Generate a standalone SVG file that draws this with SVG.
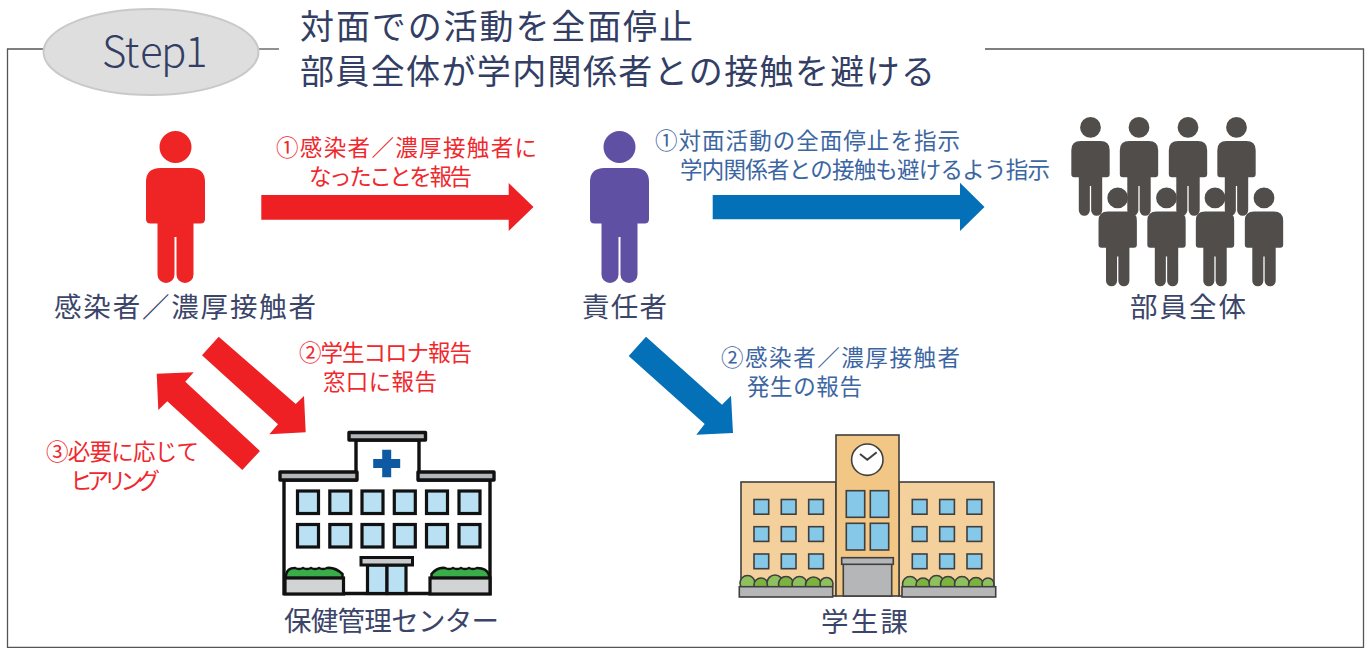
<svg xmlns="http://www.w3.org/2000/svg" width="1371" height="648" viewBox="0 0 1371 648">
<style>
text{font-family:"Noto Sans CJK JP","Noto Sans",sans-serif;}
.title{font-size:34px;fill:#333e64;}
.lab{font-size:27.5px;fill:#3b4569;}
.r{font-size:22.5px;fill:#f0282d;}
.b{font-size:22.5px;fill:#3c66a2;}
.hw{fill:#fff;stroke:#111;stroke-width:3.4;}
.hwin{fill:#b9e1f3;stroke:#111;stroke-width:3.2;}
.hgr{fill:#b3b6b8;stroke:#111;stroke-width:3.4;stroke-linejoin:round;}
.hpl{fill:#d1d3d4;stroke:#111;stroke-width:3.2;}
.sw{stroke:#3f3f3f;stroke-width:1.6;}
.swin{fill:#85c8e8;stroke:#3f3f3f;stroke-width:1.6;}
.sgr{fill:#b5b6b8;stroke:#3f3f3f;stroke-width:1.6;}
</style>
<defs>
<path id="person" d="M-15,37H15Q29.5,37 29.5,51V88Q29.5,92.5 25,92.5H18V143.5A8.5,8.5 0 0 1 1,143.5V106H-1V143.5A8.5,8.5 0 0 1 -18,143.5V92.5H-25Q-29.5,92.5 -29.5,88V51Q-29.5,37 -15,37ZM16,16A16,16 0 1 1 -16,16A16,16 0 1 1 16,16Z"/>
<rect id="hw" class="hwin" width="21" height="22.5"/>
<rect id="sw" class="swin" width="14.7" height="14.7"/>
</defs>
<rect width="1371" height="648" fill="#fff"/>
<g id="frame" fill="none" stroke="#555" stroke-width="1.3">
<path d="M44,49H7.5V647.5H1363.5V49H985"/>
<path d="M259,49H279"/>
</g>
<g id="step1">
<ellipse cx="151" cy="52" rx="107.5" ry="43" fill="#dedede" stroke="#c9c9c9" stroke-width="2"/>
<text x="102 124.5 140 161 185" y="67" font-size="42" font-weight="300" fill="#333e64">Step1</text>
</g>
<g id="title">
<text class="title" x="300" y="39" textLength="393">対面での活動を全面停止</text>
<text class="title" x="300" y="84" textLength="635">部員全体が学内関係者との接触を避ける</text>
</g>
<g id="connectors">
<polygon fill="#ee2024" points="261.3,195 508.7,195 508.7,183 533.5,207 508.7,231 508.7,219.7 261.3,219.7"/>
<polygon fill="#0470b8" points="712.7,195 960,195 960,182.7 984.5,207 960,231 960,219.3 712.7,219.3"/>
<polygon fill="#ee2024" points="218.7,336.7 295.7,404 304,396 305.7,432.3 269.3,434.3 278,424.3 202,355.3"/>
<polygon fill="#ee2024" points="156.7,373.7 193.7,372.3 185.3,381.7 260,451 242.3,470 167.3,401.3 158.3,410"/>
<polygon fill="#0470b8" points="646,336.7 722,404.7 731,395.7 733,433 696.3,434.7 704.7,424 628.7,356"/>
<g class="conn-labels">
<text class="r" x="276" y="155.5" textLength="261">①感染者／濃厚接触者に</text>
<text class="r" x="309" y="184.5" textLength="163">なったことを報告</text>
<text class="b" x="655" y="149" textLength="305">①対面活動の全面停止を指示</text>
<text class="b" x="680" y="178" textLength="370">学内関係者との接触も避けるよう指示</text>
<text class="r" x="299" y="361" textLength="173">②学生コロナ報告</text>
<text class="r" x="323" y="390" textLength="114">窓口に報告</text>
<text class="r" x="46" y="460" textLength="153">③必要に応じて</text>
<text class="r" x="70" y="489" textLength="90">ヒアリング</text>
<text class="b" x="721" y="366" textLength="239">②感染者／濃厚接触者</text>
<text class="b" x="747" y="395" textLength="115">発生の報告</text>
</g>
</g>
<g id="infected">
<use href="#person" x="175.5" y="131" fill="#ef2525"/>
<text class="lab" x="54" y="317" textLength="262">感染者／濃厚接触者</text>
</g>
<g id="manager">
<use href="#person" x="619.5" y="131" fill="#6050a3"/>
<text class="lab" x="582" y="317" textLength="85">責任者</text>
</g>
<g id="members" fill="#504d4a">
<use href="#person" transform="translate(1090.5,117) scale(.65)"/>
<use href="#person" transform="translate(1139,117) scale(.65)"/>
<use href="#person" transform="translate(1188,117) scale(.65)"/>
<use href="#person" transform="translate(1236.5,117) scale(.65)"/>
<use href="#person" transform="translate(1117.7,187.5) scale(.65)"/>
<use href="#person" transform="translate(1166.5,187.5) scale(.65)"/>
<use href="#person" transform="translate(1215,187.5) scale(.65)"/>
<use href="#person" transform="translate(1264,187.5) scale(.65)"/>
<text class="lab" x="1130" y="317" textLength="116">部員全体</text>
</g>
<g id="health-center">
<path class="hw" d="M356,480V440H419V480H490V593.5H284V480Z"/>
<rect class="hgr" x="349" y="432.5" width="76.5" height="7.5"/>
<rect class="hgr" x="280" y="472" width="77" height="8"/>
<rect class="hgr" x="418" y="472" width="76" height="8"/>
<path fill="#0d5aa3" d="M382.2,449.8H391.2V459H400.2V468H391.2V477.2H382.2V468H373.2V459H382.2Z"/>
<use href="#hw" x="297.5" y="491"/><use href="#hw" x="329.8" y="491"/><use href="#hw" x="362" y="491"/><use href="#hw" x="394.3" y="491"/><use href="#hw" x="426.5" y="491"/><use href="#hw" x="459" y="491"/>
<use href="#hw" x="297.5" y="524.5"/><use href="#hw" x="329.8" y="524.5"/><use href="#hw" x="362" y="524.5"/><use href="#hw" x="394.3" y="524.5"/><use href="#hw" x="426.5" y="524.5"/><use href="#hw" x="459" y="524.5"/>
<rect class="hwin" x="367.5" y="565" width="19.5" height="28.5"/>
<rect class="hwin" x="387" y="565" width="19" height="28.5"/>
<rect x="361" y="557.5" width="51.5" height="7.5" fill="#c9cbcc" stroke="#111" stroke-width="3"/>
<path fill="#39ad48" stroke="#111" stroke-width="2.5" d="M286,578V575Q287,568 295,568Q299,570 303,568Q307,570 311,568Q315,570 319,568Q323,570 327,568Q335,567 342.5,574V578Z"/>
<path fill="#39ad48" stroke="#111" stroke-width="2.5" d="M431.5,578V574Q437,567 445,568Q449,570 453,568Q457,570 461,568Q465,570 469,568Q473,570 477,568Q487,568 489,575V578Z"/>
<rect class="hpl" x="285" y="578" width="58.5" height="16"/>
<rect class="hpl" x="430" y="578" width="60" height="16"/>
<text class="lab" x="284" y="631" textLength="215">保健管理センター</text>
</g>
<g id="student-affairs">
<rect class="sw" fill="#f4d19c" x="741" y="482" width="95" height="114"/>
<rect class="sw" fill="#f4d19c" x="899" y="482" width="95" height="114"/>
<rect class="sw" fill="#f2c684" x="836" y="435" width="63" height="161"/>
<circle class="sw" fill="#fff" cx="867.3" cy="459.7" r="15.7"/>
<path fill="none" stroke="#3f3f3f" stroke-width="2" d="M860,454L867.3,459.7L876.7,452.3"/>
<use href="#sw" x="754" y="499.5"/><use href="#sw" x="781.3" y="499.5"/><use href="#sw" x="808.7" y="499.5"/>
<use href="#sw" x="754" y="526.7"/><use href="#sw" x="781.3" y="526.7"/><use href="#sw" x="808.7" y="526.7"/>
<use href="#sw" x="754" y="554"/><use href="#sw" x="781.3" y="554"/><use href="#sw" x="808.7" y="554"/>
<use href="#sw" x="912.3" y="499.5"/><use href="#sw" x="939.7" y="499.5"/><use href="#sw" x="967" y="499.5"/>
<use href="#sw" x="912.3" y="526.7"/><use href="#sw" x="939.7" y="526.7"/><use href="#sw" x="967" y="526.7"/>
<use href="#sw" x="912.3" y="554"/><use href="#sw" x="939.7" y="554"/><use href="#sw" x="967" y="554"/>
<rect class="swin" x="846.3" y="490.7" width="18.4" height="26.6"/><rect class="swin" x="870.3" y="490.7" width="18.4" height="26.6"/>
<rect class="swin" x="846.3" y="523.3" width="18.4" height="26.7"/><rect class="swin" x="870.3" y="523.3" width="18.4" height="26.7"/>
<rect class="sgr" x="843.3" y="564" width="48.4" height="32"/>
<rect class="sgr" x="841.7" y="557.7" width="51.6" height="6.6"/>
<g class="sw" fill="#8fc05e">
<circle cx="747.5" cy="583" r="7.5"/><circle cx="761" cy="585" r="7" fill="#7bb33e"/><circle cx="775" cy="583" r="8"/><circle cx="786" cy="584" r="7.5" fill="#7bb33e"/><circle cx="799.5" cy="584" r="7.5"/><circle cx="813.5" cy="585" r="8" fill="#7bb33e"/><circle cx="826.5" cy="584" r="6.5"/>
<circle cx="910" cy="584" r="7.5"/><circle cx="923" cy="585" r="7" fill="#7bb33e"/><circle cx="936.5" cy="583" r="7.5"/><circle cx="948" cy="584" r="7.5" fill="#7bb33e"/><circle cx="962" cy="584" r="7.5"/><circle cx="976" cy="585" r="7.5" fill="#7bb33e"/><circle cx="988" cy="584" r="6"/>
</g>
<rect class="sgr" x="739.3" y="586.7" width="93.4" height="10.3"/>
<rect class="sgr" x="902" y="586.7" width="93.7" height="10.3"/>
<text class="lab" x="821" y="632" textLength="87">学生課</text>
</g>
</svg>
